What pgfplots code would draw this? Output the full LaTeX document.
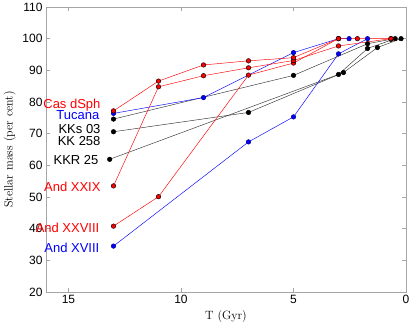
\documentclass[border=0pt]{standalone}
\usepackage{pgfplots}
\pgfplotsset{compat=1.18}
\usepackage{fontspec}
\newfontfamily\hv{Liberation Sans}
\begin{document}
\begin{tikzpicture}
\begin{axis}[
  at={(0,0)}, anchor=south west,
  scale only axis, width=360pt, height=285pt,
  xmin=0, xmax=16, ymin=20, ymax=110, x dir=reverse,
  xtick={0,5,10,15}, ytick={20,30,40,50,60,70,80,90,100,110},
  tick align=inside, xtick pos=both, ytick pos=both,
  axis line style={gray!70, line width=0.9pt},
  major tick style={gray!70, line width=0.7pt},
  major tick length=4.5pt,
  tick label style={font=\hv\fontsize{12}{14}\selectfont},
  /pgf/number format/assume math mode=true,
  xlabel={T (Gyr)}, ylabel={Stellar mass (per cent)},
  label style={font=\fontsize{12}{14}\selectfont},
  every axis plot/.append style={line width=0.45pt, mark=*, mark size=2.3pt},
  clip=false,
]
% black series
\addplot[black!80, mark options={fill=black, draw=black}] coordinates {(13,74.6) (5,88.4) (1.71,98.4) (0.67,99.8)};
\addplot[black!80, mark options={fill=black, draw=black}] coordinates {(13,70.6) (7,76.7) (2.78,89.3) (1.27,97.2) (0.22,100)};
\addplot[black!80, mark options={fill=black, draw=black}] coordinates {(13.17,61.9) (3,88.7) (1.71,96.9) (0.48,100)};
% blue series
\addplot[blue, mark options={fill=blue, draw=blue!50!black}] coordinates {(13,76.4) (9,81.4) (5,95.6) (3,100) (2.53,100)};
\addplot[blue, mark options={fill=blue, draw=blue!50!black}] coordinates {(13,34.5) (7,67.4) (5,75.3) (3,95.2) (1.71,100)};
% red series
\addplot[red, mark options={fill=red, draw=black}] coordinates {(13,40.8) (11,50.1) (7,88.5) (5,92.3) (3,100)};
\addplot[red, mark options={fill=red, draw=black}] coordinates {(13,53.5) (11,84.8) (9,88.3) (7,90.8) (5,93.1) (3,97.7) (0.67,100)};
\addplot[red, mark options={fill=red, draw=black}] coordinates {(13,77.2) (11,86.6) (9,91.7) (7,93.0) (5,94.0) (3,100) (2.16,100) (0.67,100)};
% labels
\begin{scope}[every node/.style={font=\hv\fontsize{13}{15}\selectfont, inner sep=0pt, anchor=base east}]
\node[red] at (axis cs:13.57,78.1) {Cas dSph};
\node[blue] at (axis cs:13.62,74.6) {Tucana};
\node[black] at (axis cs:13.57,70.2) {KKs 03};
\node[black] at (axis cs:13.57,66.4) {KK 258};
\node[black] at (axis cs:13.66,60.4) {KKR 25};
\node[red] at (axis cs:13.57,51.6) {And XXIX};
\node[red] at (axis cs:13.62,38.9) {And XXVIII};
\node[blue] at (axis cs:13.62,32.6) {And XVIII};
\end{scope}
\end{axis}
\pgfresetboundingbox
\path (-46pt,-35pt) rectangle (365pt,292pt);
\end{tikzpicture}
\end{document}
